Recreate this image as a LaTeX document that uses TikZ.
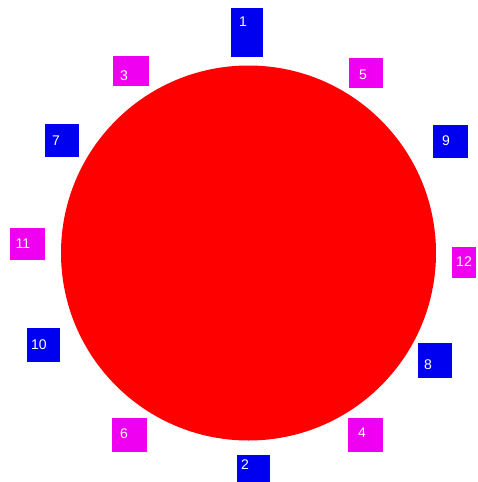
\documentclass[tikz,border=0pt]{standalone}
\usepackage{fontspec}
\setmainfont{Liberation Sans}
\begin{document}
\begin{tikzpicture}[x=1pt,y=-1pt,
  bx/.style={inner sep=0pt, outer sep=0pt, anchor=north west},
  bl/.style={bx, fill={rgb,255:red,0;green,0;blue,240}},
  mg/.style={bx, fill={rgb,255:red,240;green,0;blue,240}},
  num/.style={text=white, inner sep=0pt, font=\fontsize{14}{14}\selectfont}]
\useasboundingbox (0,0) rectangle (477,482);
\fill[white] (0,0) rectangle (477,482);
\fill[red] (248.5,253) circle (187.5);
% boxes
\node[bl, minimum width=32, minimum height=49] (b1) at (231,8) {};
\node[mg, minimum width=36, minimum height=30] (b3) at (113,56) {};
\node[mg, minimum width=34, minimum height=30] (b5) at (349,58) {};
\node[bl, minimum width=34, minimum height=33] (b7) at (45,124) {};
\node[bl, minimum width=35, minimum height=33] (b9) at (433,125) {};
\node[mg, minimum width=35, minimum height=32] (b11) at (10,228) {};
\node[mg, minimum width=24, minimum height=31] (b12) at (452,247) {};
\node[bl, minimum width=33, minimum height=34] (b10) at (27,328) {};
\node[bl, minimum width=34, minimum height=35] (b8) at (418,343) {};
\node[mg, minimum width=35, minimum height=34] (b6) at (112,418) {};
\node[mg, minimum width=35, minimum height=34] (b4) at (348,418) {};
\node[bl, minimum width=33, minimum height=27] (b2) at (237,455) {};
% labels
\node[num] (t1) at (243,22) {1};
\node[num] (t3) at (124,76) {3};
\node[num] (t5) at (363,75) {5};
\node[num] (t7) at (56,141) {7};
\node[num] (t9) at (446,141) {9};
\node[num] (t11) at (23,244) {11};
\node[num] (t12) at (464,262) {12};
\node[num] (t10) at (39,345) {10};
\node[num] (t8) at (428,365) {8};
\node[num] (t6) at (124,434) {6};
\node[num] (t4) at (362,433) {4};
\node[num] (t2) at (245,465) {2};
\end{tikzpicture}
\end{document}
